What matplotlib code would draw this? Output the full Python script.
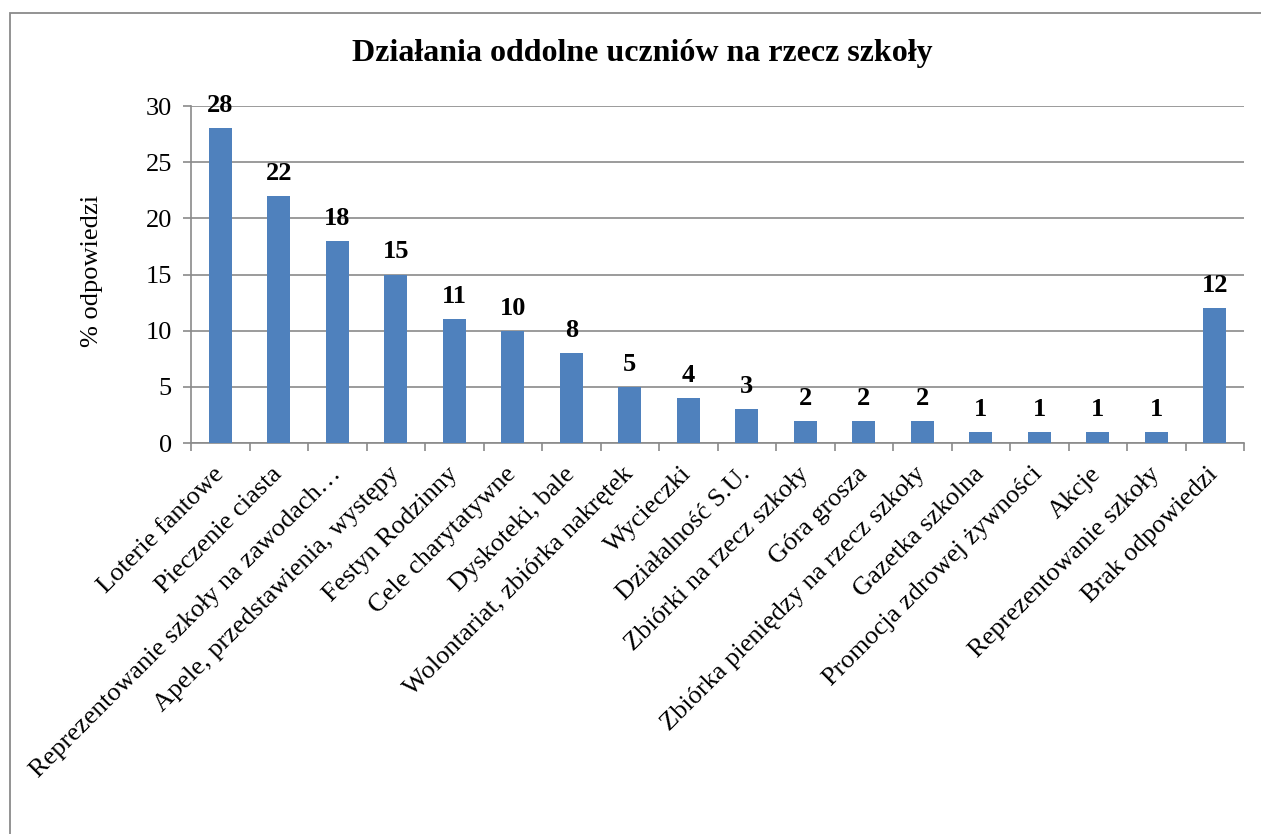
import numpy as np
import matplotlib
matplotlib.use('Agg')
import matplotlib.pyplot as plt
from matplotlib.patches import Rectangle

plt.rcParams['font.family'] = ['Liberation Serif', 'DejaVu Serif']

categories = ['Loterie fantowe', 'Pieczenie ciasta', 'Reprezentowanie szkoły na zawodach…',
              'Apele, przedstawienia, występy', 'Festyn Rodzinny', 'Cele charytatywne',
              'Dyskoteki, bale', 'Wolontariat, zbiórka nakrętek', 'Wycieczki',
              'Działalność S.U.', 'Zbiórki na rzecz szkoły', 'Góra grosza',
              'Zbiórka pieniędzy na rzecz szkoły', 'Gazetka szkolna',
              'Promocja zdrowej żywności', 'Akcje', 'Reprezentowanie szkoły', 'Brak odpowiedzi']
values = [28, 22, 18, 15, 11, 10, 8, 5, 4, 3, 2, 2, 2, 1, 1, 1, 1, 12]
yticks = [0, 5, 10, 15, 20, 25, 30]

W, H = 1261, 834
gray = '#8a8a8a'
fig = plt.figure(figsize=(W / 100, H / 100), dpi=100)
ax = fig.add_axes([191 / W, 1 - 443 / H, (1244 - 191) / W, (443 - 106) / H])

# chart frame (cropped on right/bottom like the original)
fig.patches.append(Rectangle((10 / W, -0.1), 1.2, 1 - 13 / H + 0.1, transform=fig.transFigure,
                             fill=False, edgecolor=gray, linewidth=1.3))

x = np.arange(len(categories))
ax.bar(x, values, width=0.4, color='#4F81BD', zorder=3)
for xi, v in zip(x, values):
    ax.annotate(str(v), (xi, v), xytext=(0, 11), textcoords='offset pixels',
                ha='center', va='bottom', fontsize=19, fontweight='bold')

ax.set_xlim(-0.5, len(categories) - 0.5)
ax.set_ylim(0, 30)
ax.set_yticks(yticks)
ax.set_yticklabels([str(t) for t in yticks], fontsize=19)
ax.yaxis.grid(True, color=gray, linewidth=1.2, zorder=0)
ax.set_axisbelow(True)

ax.set_xticks(np.arange(-0.5, len(categories), 1))
ax.set_xticklabels([])
ax.set_xticks(x, minor=True)
ax.set_xticklabels(categories, minor=True, rotation=45, ha='right', va='center',
                   rotation_mode='anchor', fontsize=19)
ax.tick_params(axis='x', which='minor', length=0, pad=20)
ax.tick_params(axis='x', which='major', length=5.8, color=gray, width=1.2)
ax.tick_params(axis='y', length=5.8, color=gray, width=1.2, pad=8)

for s in ['top', 'right']:
    ax.spines[s].set_visible(False)
for s in ['left', 'bottom']:
    ax.spines[s].set_color(gray)
    ax.spines[s].set_linewidth(1.2)

ax.set_ylabel('% odpowiedzi', fontsize=19)
ax.yaxis.set_label_coords(-0.084, 0.51)
fig.text(642 / W, 1 - 54 / H, 'Działania oddolne uczniów na rzecz szkoły', ha='center', va='center',
         fontsize=23, fontweight='bold')

fig.savefig('out.png', dpi=100, facecolor='white')
